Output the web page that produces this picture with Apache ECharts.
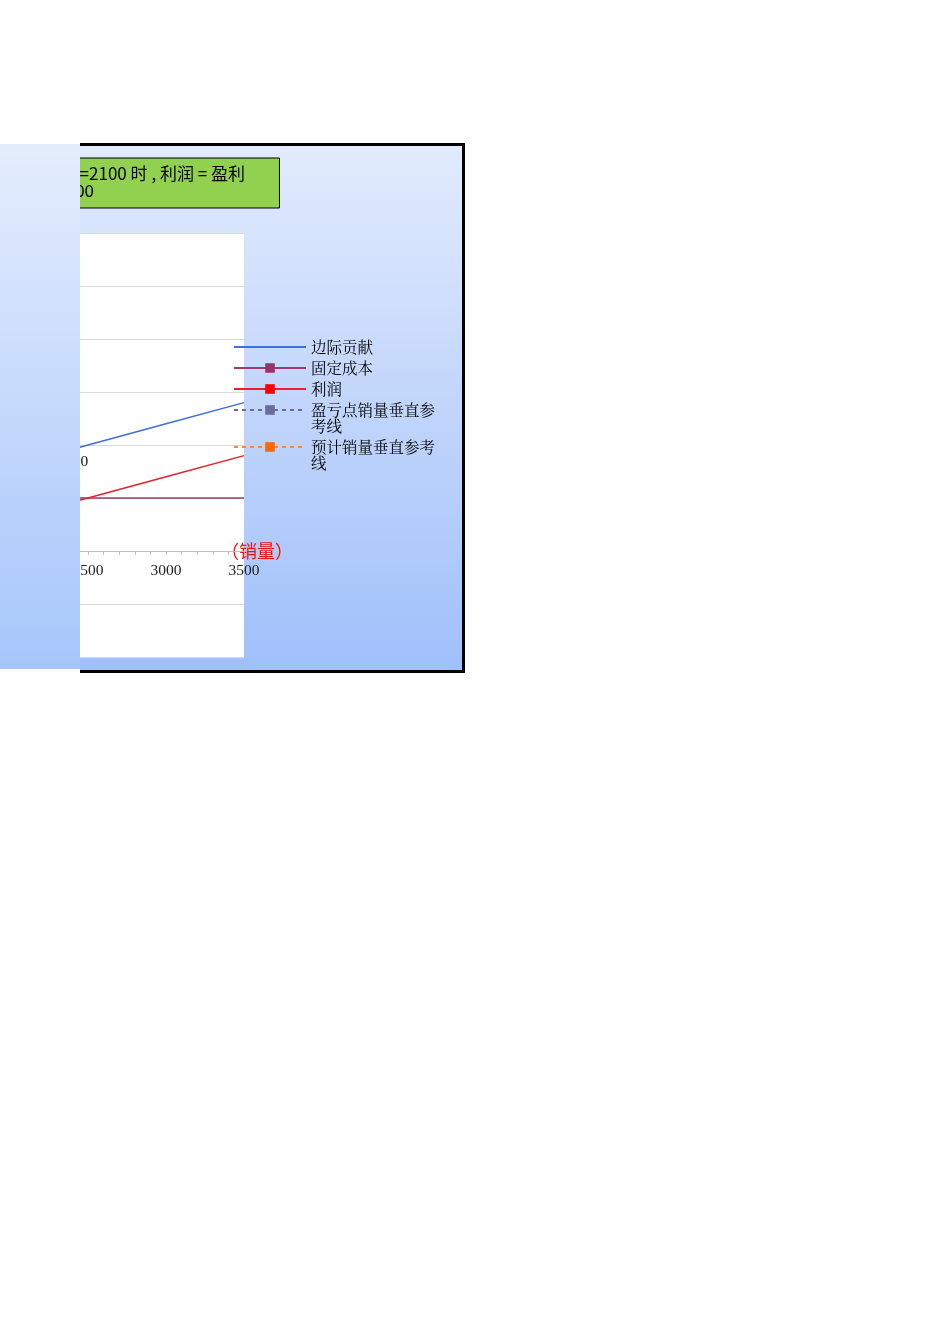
<!DOCTYPE html>
<html>
<head>
<meta charset="utf-8">
<title>本量利分析图</title>
<script src="https://cdn.jsdelivr.net/npm/echarts/dist/echarts.min.js"></script>
<style>
    body { margin: 0; background: #fff; }
    .strip { position: absolute; left: 0; top: 144px; width: 80px; height: 525px;
             background: linear-gradient(#e5edfd, #a6c6fb); }
    .clip { position: absolute; left: 80px; top: 143px; width: 382px; height: 524px;
            border: 3px solid #000; border-left: none; overflow: hidden;
            background: linear-gradient(#e2ebfd, #a0c0fa); }
    .clip .chart { position: absolute; left: -480px; top: 0; width: 865px; height: 524px; }
</style>
</head>
<body>
<div class="strip"></div>
<div class="clip"><div class="chart"></div></div>
<script>
// 数据
var salesQty = [0, 500, 1000, 1500, 2000, 2500, 3000, 3500];
var contribution = [0, 4000, 8000, 12000, 16000, 20000, 24000, 28000];
var fixedCost = [10000, 10000, 10000, 10000, 10000, 10000, 10000, 10000];
var profit = [-10000, -6000, -2000, 2000, 6000, 10000, 14000, 18000];
var breakEvenQty = 1250;
var plannedQty = 2100;
var plannedContribution = 16800;
var refRange = [-20000, 60000];
var xRange = [0, 3500, 500];
var yRange = [-20000, 60000, 10000];
var seriesNames = ['边际贡献', '固定成本', '利润', '盈亏点销量垂直参考线', '预计销量垂直参考线'];
var boxLines = ['当预计销量=2100 时 , 利润 = 盈利', '6800'];

var serif = '"Liberation Serif", "DejaVu Serif", serif';
var cjkFont = '"Noto Serif CJK SC", "Noto Sans CJK SC", sans-serif';
var boxFont = '"Noto Sans CJK SC", sans-serif';

var gridTop = 87, gridHeight = 424;
// x 轴放在 y=0 处
var xAxisOffset = -(0 - yRange[0]) / (yRange[1] - yRange[0]) * gridHeight;

function pairs(xs, ys) {
    return xs.map(function (x, i) { return [x, ys[i]]; });
}

// 图例：每项单独定位，两行的项让图标对齐第一行
function legendItem(item, centerY, splitAt) {
    var twoLines = splitAt > 0;
    return {
        data: [item],
        left: 633,
        top: twoLines ? centerY - 24 : centerY - 8,
        padding: 0,
        itemWidth: 72,
        itemHeight: 12,
        selectedMode: false,
        formatter: function (name) {
            return twoLines ? '\n' + name.slice(0, splitAt) + '\n' + name.slice(splitAt) : name;
        },
        textStyle: { fontFamily: cjkFont, fontSize: 15.5, lineHeight: 16, color: '#000' }
    };
}

var chart = echarts.init(document.querySelector('.clip .chart'));
var option = {
    animation: false,
    grid: {
        left: 98, top: gridTop, width: 546, height: gridHeight,
        outerBoundsMode: 'none', containLabel: false,
        show: true, backgroundColor: '#fff', borderWidth: 0
    },
    legend: [
        legendItem({ name: seriesNames[0], itemStyle: { opacity: 0 } }, 201, 0),
        legendItem({ name: seriesNames[1] }, 222, 0),
        legendItem({ name: seriesNames[2] }, 243, 0),
        legendItem({ name: seriesNames[3] }, 264, 8),
        legendItem({ name: seriesNames[4] }, 301, 8)
    ],
    xAxis: {
        type: 'value', min: xRange[0], max: xRange[1], interval: xRange[2],
        offset: xAxisOffset,
        name: '（销量）', nameLocation: 'end', nameGap: -23,
        nameTextStyle: { color: '#f01010', fontSize: 18, fontFamily: '"Noto Sans CJK SC", sans-serif' },
        axisLine: { onZero: false, lineStyle: { color: '#bfbfbf' } },
        axisTick: { length: 4, lineStyle: { color: '#bfbfbf' } },
        minorTick: { show: true, splitNumber: 5, length: 4, lineStyle: { color: '#bfbfbf' } },
        axisLabel: {
            color: '#222', fontFamily: serif, fontSize: 15.5, margin: 12,
            formatter: function (v) { return String(v); }
        },
        splitLine: { show: false }
    },
    yAxis: {
        type: 'value', min: yRange[0], max: yRange[1], interval: yRange[2],
        axisLine: { show: true, lineStyle: { color: '#bfbfbf' } },
        axisLabel: {
            color: '#222', fontFamily: serif, fontSize: 15.5,
            formatter: function (v) { return String(v); }
        },
        splitLine: { lineStyle: { color: '#d9d9d9' } }
    },
    graphic: [
        { type: 'rect', shape: { x: 300, y: 12, width: 379.5, height: 50 },
          style: { fill: '#92d050', stroke: '#000', lineWidth: 1 } },
        { type: 'text', x: 645, y: 28,
          style: { text: boxLines[0], align: 'right', verticalAlign: 'middle',
                   fontSize: 17, fontFamily: boxFont, fill: '#000' } },
        { type: 'text', x: 494, y: 45,
          style: { text: boxLines[1], align: 'right', verticalAlign: 'middle',
                   fontSize: 17, fontFamily: boxFont, fill: '#000' } }
    ],
    series: [
        {
            name: seriesNames[0], type: 'line', data: pairs(salesQty, contribution),
            symbol: 'none', lineStyle: { color: '#3f6fd8', width: 1.5 }, itemStyle: { color: '#3f6fd8' }
        },
        {
            name: seriesNames[1], type: 'line', data: pairs(salesQty, fixedCost),
            symbol: 'rect', showSymbol: false,
            lineStyle: { color: '#9a3b6a', width: 1.5 }, itemStyle: { color: '#993366' }
        },
        {
            name: seriesNames[2], type: 'line', data: pairs(salesQty, profit),
            symbol: 'rect', showSymbol: false,
            lineStyle: { color: '#e8202a', width: 1.5 }, itemStyle: { color: '#ff0000' }
        },
        {
            name: seriesNames[3], type: 'line',
            data: [[breakEvenQty, refRange[0]], [breakEvenQty, 0], [breakEvenQty, refRange[1]]],
            symbol: 'rect', symbolSize: 8,
            lineStyle: { color: '#6b6ba3', width: 1.5, type: [4, 4] }, itemStyle: { color: '#6b6b9e' }
        },
        {
            name: seriesNames[4], type: 'line',
            data: [
                [plannedQty, refRange[0]],
                { value: [plannedQty, plannedContribution],
                  label: { show: true, position: 'right', distance: 20,
                           fontFamily: serif, fontSize: 15.5, color: '#111',
                           formatter: function (p) { return String(p.value[1]); } } },
                [plannedQty, refRange[1]]
            ],
            symbol: 'rect', symbolSize: 8,
            lineStyle: { color: '#f08a3c', width: 1.5, type: [4, 4] }, itemStyle: { color: '#ff6600' }
        }
    ]
};
chart.setOption(option);
</script>
</body>
</html>
